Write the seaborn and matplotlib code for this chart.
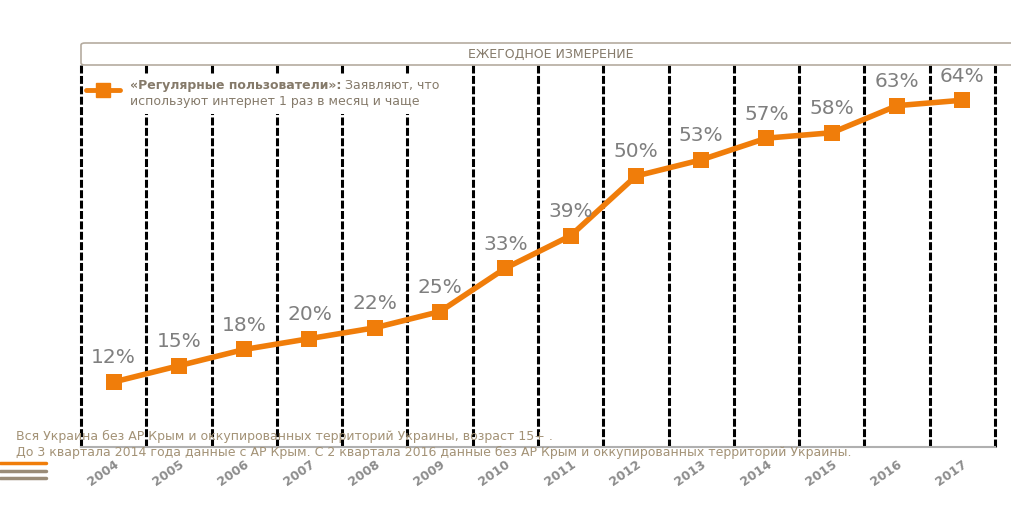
import numpy as np
import pandas as pd
import matplotlib.pyplot as plt
import seaborn as sns
from matplotlib.patches import FancyBboxPatch, Rectangle
from matplotlib.lines import Line2D

years = ['2004', '2005', '2006', '2007', '2008', '2009', '2010',
         '2011', '2012', '2013', '2014', '2015', '2016', '2017']
share = [12, 15, 18, 20, 22, 25, 33, 39, 50, 53, 57, 58, 63, 64]

title_text = 'ЕЖЕГОДНОЕ ИЗМЕРЕНИЕ'
legend_bold = '«Регулярные пользователи»:'
legend_rest = ' Заявляют, что'
legend_line2 = 'используют интернет 1 раз в месяц и чаще'
note1 = 'Вся Украина без АР Крым и оккупированных территорий Украины, возраст 15+ .'
note2 = 'До 3 квартала 2014 года данные с АР Крым. С 2 квартала 2016 данные без АР Крым и оккупированных территорий Украины.'

ORANGE = '#f07d0a'
TXT = '#857a6a'
NOTE = '#a39276'

sns.set_style('white')
plt.rcParams['font.family'] = ['DejaVu Sans']

df = pd.DataFrame({'x': np.arange(len(years)), 'v': share})

fig = plt.figure(figsize=(10.12, 5.12), dpi=100)
ax = fig.add_axes([81 / 1012, 1 - 447 / 512, 914 / 1012, 382 / 512])
F = fig.transFigure

# dashed separators between years
for b in np.arange(-0.5, len(years), 1.0):
    ax.axvline(b, color='black', lw=2.2, ls=(0, (2.6, 0.8)), zorder=1, clip_on=False)

sns.lineplot(data=df, x='x', y='v', ax=ax, color=ORANGE, lw=4,
             marker='s', markersize=12, markeredgewidth=0, zorder=4)

for i, v in enumerate(share):
    ax.text(i, v + 2.7, f'{v}%', ha='center', va='bottom', fontsize=14.5,
            color='#7f7f7f', zorder=5)

ax.set_xlim(-0.5, len(years) - 0.5)
ax.set_ylim(0, 70.5)
ax.set_yticks([])
ax.set_xticks(df['x'])
ax.set_xticklabels(years, rotation=35, ha='right', rotation_mode='anchor',
                   fontsize=9, fontweight='bold', color='#8c8c8c')
ax.tick_params(axis='x', length=0, pad=8)
ax.set_xlabel('')
ax.set_ylabel('')
for s in ['top', 'left', 'right']:
    ax.spines[s].set_visible(False)
ax.spines['bottom'].set_color('#b0b0b0')
ax.spines['bottom'].set_linewidth(1.5)

# legend block with white background over the separators
ax.add_patch(Rectangle((140 / 1012, 1 - 114 / 512), 305 / 1012, 40 / 512,
                       transform=F, facecolor='white', edgecolor='none',
                       zorder=3, clip_on=False))
ax.add_line(Line2D([86 / 1012, 120 / 1012], [1 - 90 / 512] * 2, transform=F,
                   color=ORANGE, lw=3.5, zorder=4, clip_on=False))
ax.add_line(Line2D([103 / 1012], [1 - 90 / 512], transform=F, color=ORANGE,
                   marker='s', markersize=10, zorder=5, clip_on=False))
t1 = fig.text(130 / 1012, 1 - 85 / 512, legend_bold, fontsize=9, fontweight='bold',
              color=TXT, va='center', zorder=6)
fig.canvas.draw()
bb = t1.get_window_extent()
fig.text(bb.x1 / 1012, 1 - 85 / 512, legend_rest, fontsize=9, color=TXT,
         va='center', zorder=6)
fig.text(130 / 1012, 1 - 101 / 512, legend_line2, fontsize=9, color=TXT,
         va='center', zorder=6)

# title strip
fig.patches.append(FancyBboxPatch((81 / 1012, 1 - 65 / 512), 940 / 1012, 22 / 512,
                                  boxstyle='round,pad=0,rounding_size=0.004',
                                  transform=F, facecolor='white',
                                  edgecolor='#b5aca0', lw=1.2, zorder=2))
fig.text(551 / 1012, 1 - 54 / 512, title_text, fontsize=9, color=TXT,
         ha='center', va='center')

# footnotes
fig.text(16 / 1012, 1 - 436 / 512, note1, fontsize=9, color=NOTE, va='center', zorder=6)
fig.text(16 / 1012, 1 - 452 / 512, note2, fontsize=9, color=NOTE, va='center', zorder=6)

# decorative lines bottom-left
for yy, c in [(463, ORANGE), (471, '#9a8c78'), (478, '#9a8c78')]:
    fig.lines.append(Line2D([0, 46 / 1012], [1 - yy / 512] * 2,
                            transform=F, color=c, lw=2.5))

fig.savefig('out.png', dpi=100)
